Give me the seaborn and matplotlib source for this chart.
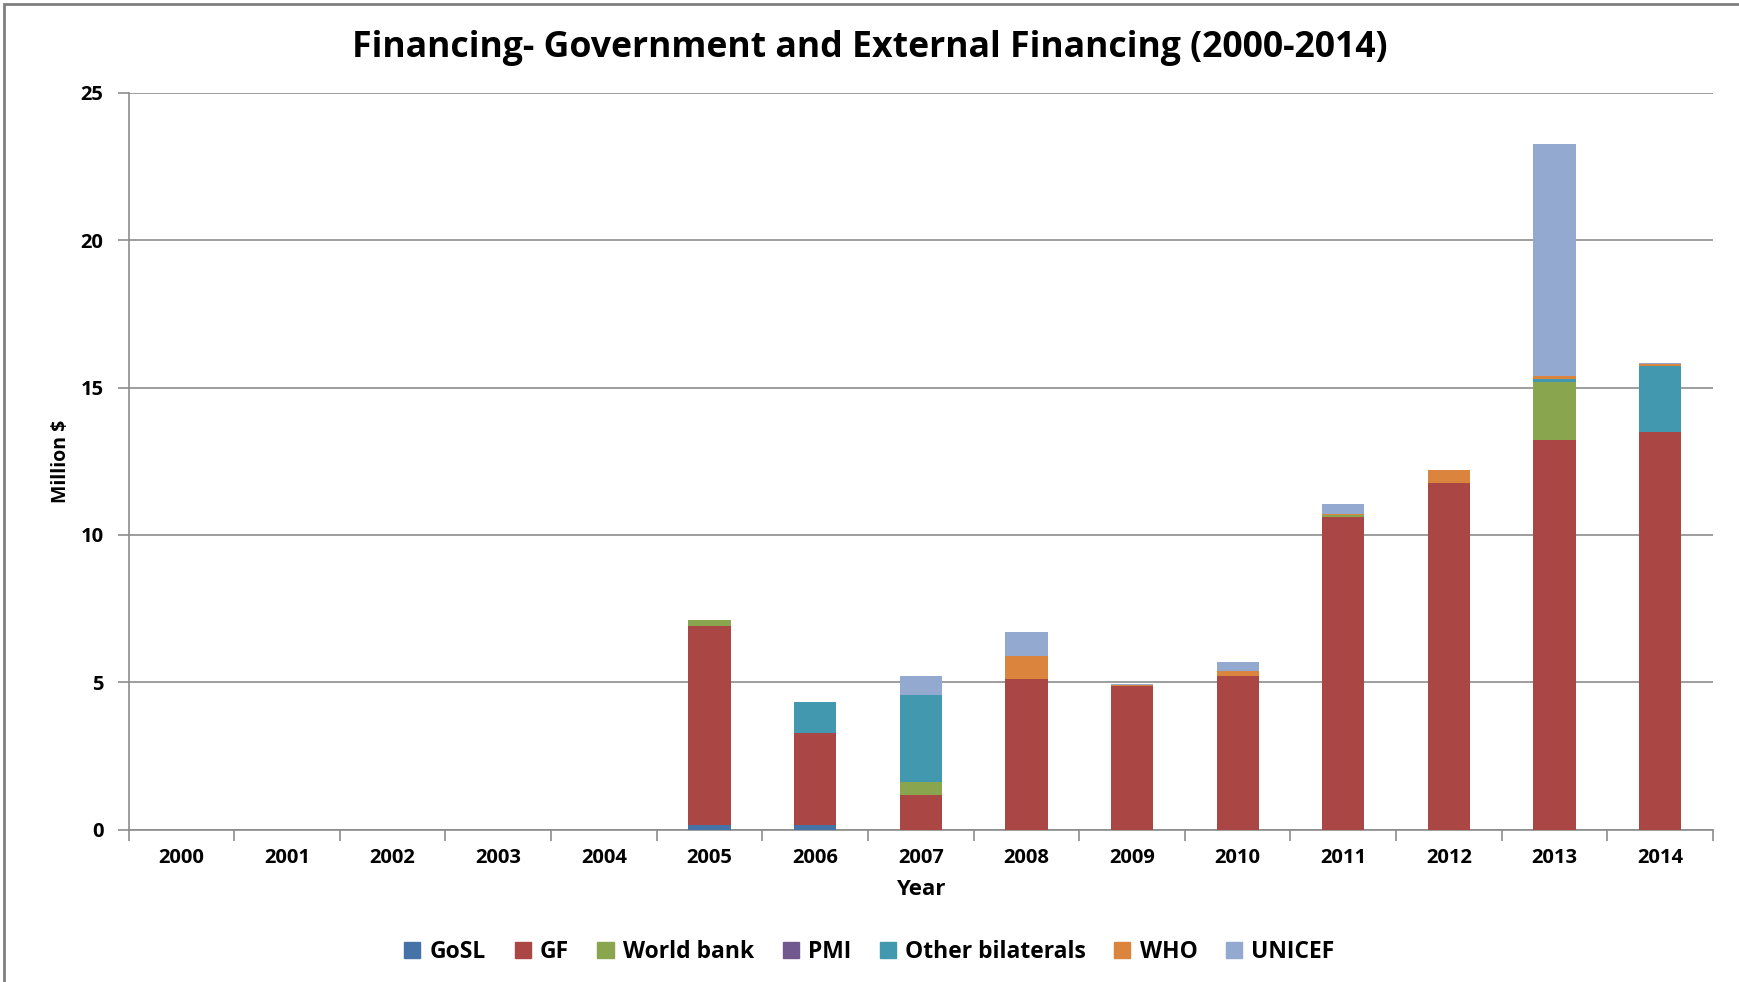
import matplotlib
matplotlib.use("Agg")
import matplotlib.pyplot as plt
from matplotlib.patches import Rectangle
import numpy as np
import pandas as pd
import seaborn as sns

years = [str(y) for y in range(2000, 2015)]
gosl = [0, 0, 0, 0, 0, 0.15, 0.15, 0, 0, 0, 0, 0, 0, 0, 0]
gf = [0, 0, 0, 0, 0, 6.75, 3.14, 1.16, 5.12, 4.87, 5.23, 10.62, 11.76, 13.23, 13.51]
world_bank = [0, 0, 0, 0, 0, 0.20, 0, 0.46, 0, 0, 0, 0.05, 0, 1.96, 0]
pmi = [0, 0, 0, 0, 0, 0, 0, 0, 0, 0, 0, 0, 0, 0, 0]
other_bilaterals = [0, 0, 0, 0, 0, 0, 1.03, 2.94, 0, 0, 0, 0, 0, 0.10, 2.21]
who = [0, 0, 0, 0, 0, 0, 0, 0, 0.78, 0.03, 0.16, 0.05, 0.43, 0.11, 0.08]
unicef = [0, 0, 0, 0, 0, 0, 0, 0.67, 0.79, 0.05, 0.30, 0.33, 0.03, 7.88, 0.02]

series_names = ["GoSL", "GF", "World bank", "PMI", "Other bilaterals", "WHO", "UNICEF"]
series_values = [gosl, gf, world_bank, pmi, other_bilaterals, who, unicef]
colors = ["#4572A7", "#AA4643", "#89A54E", "#71588F", "#4198AF", "#DB843D", "#93A9CF"]

font = "Open Sans"
plt.rcParams["font.family"] = [font, "DejaVu Sans"]
plt.rcParams["font.weight"] = "bold"

fig = plt.figure(figsize=(17.39, 9.82), dpi=100)
ax = fig.add_axes([128.6 / 1739, 1 - 829.6 / 982, (1713 - 128.6) / 1739, (829.6 - 93) / 982])

# stacked bars: draw cumulative totals from the top layer down
cum = np.cumsum(np.array(series_values, dtype=float), axis=0)
for i in range(len(series_names) - 1, -1, -1):
    df = pd.DataFrame({"Year": years, "value": cum[i]})
    sns.barplot(data=df, x="Year", y="value", color=colors[i], width=0.4,
                saturation=1, linewidth=0, ax=ax, zorder=3)

ax.set_xlim(-0.5, len(years) - 0.5)
ax.set_ylim(0, 25)
ax.set_yticks([0, 5, 10, 15, 20, 25])
ax.yaxis.grid(True, color="#8c8c8c", linewidth=1.2, zorder=0)
ax.set_axisbelow(True)
for s in ["top", "right"]:
    ax.spines[s].set_visible(False)
for s in ["left", "bottom"]:
    ax.spines[s].set_color("#8c8c8c")
    ax.spines[s].set_linewidth(1.2)

# category-boundary ticks on the x axis
ax.set_xticks(np.arange(len(years)))
ax.set_xticklabels(years)
ax.set_xticks(np.arange(len(years) + 1) - 0.5, minor=True)
ax.tick_params(axis="x", which="major", length=0, pad=13, labelsize=14.5)
ax.tick_params(axis="x", which="minor", length=8, color="#8c8c8c", width=1.2)
ax.tick_params(axis="y", length=8, color="#8c8c8c", width=1.2, labelsize=14.5, pad=10)
for lab in ax.get_xticklabels() + ax.get_yticklabels():
    lab.set_fontweight("bold")

ax.set_xlabel("Year", fontsize=16, fontweight="bold", labelpad=8)
ax.set_ylabel("Million $", fontsize=14, fontweight="bold", labelpad=7)

fig.text(0.5, 1 - 48 / 982, "Financing- Government and External Financing (2000-2014)",
         ha="center", va="center", fontsize=25.7, fontweight="bold")

handles = [Rectangle((0, 0), 1, 1, color=c) for c in colors]
fig.legend(handles, series_names, loc="center", bbox_to_anchor=(0.5, 1 - 952 / 982),
           ncol=7, frameon=False, handlelength=0.7, handleheight=0.7,
           handletextpad=0.4, columnspacing=1.25, prop={"weight": "bold", "size": 16.5})

# outer chart frame
fig.patches.append(Rectangle((4 / 1739, -0.02), 1.1, 1 - 4 / 982 + 0.02, transform=fig.transFigure,
                             fill=False, edgecolor="#7f7f7f", linewidth=2))

fig.savefig("out.png", dpi=100, facecolor="white")
